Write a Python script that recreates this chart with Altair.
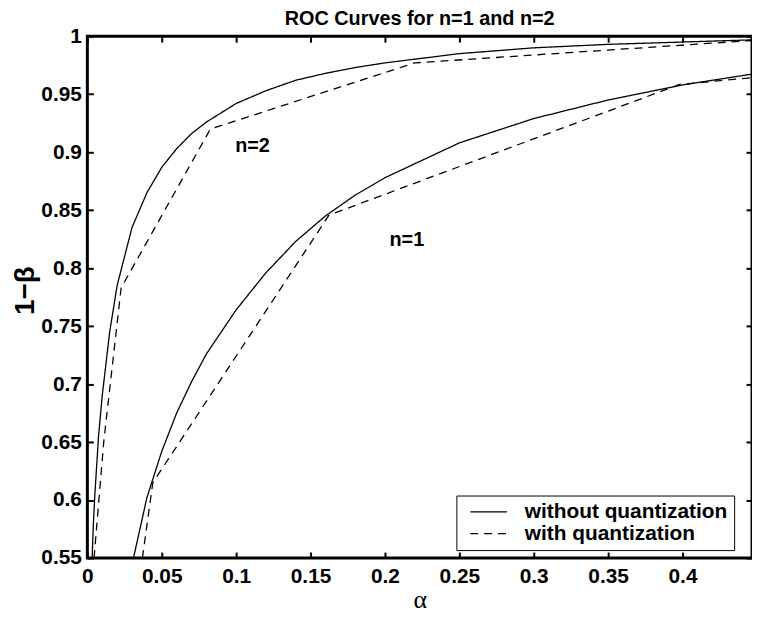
import altair as alt
import pandas as pd

# ---- data ----
n2_solid_alpha = [0.0032, 0.004, 0.005, 0.0075, 0.01, 0.015, 0.02, 0.03, 0.04, 0.05, 0.06, 0.07,
                  0.08, 0.1, 0.12, 0.14, 0.16, 0.18, 0.2, 0.25, 0.3, 0.35, 0.4, 0.45]
n2_solid_pd = [0.55, 0.578, 0.604, 0.655, 0.690, 0.745, 0.785, 0.835, 0.865, 0.887, 0.903, 0.916,
               0.926, 0.942, 0.953, 0.962, 0.968, 0.973, 0.977, 0.985, 0.990, 0.993, 0.995, 0.997]

n1_solid_alpha = [0.031, 0.04, 0.05, 0.06, 0.07, 0.08, 0.1, 0.12, 0.14, 0.16, 0.18, 0.2,
                  0.25, 0.3, 0.35, 0.4, 0.45]
n1_solid_pd = [0.55, 0.602, 0.642, 0.675, 0.702, 0.726, 0.764, 0.796, 0.823, 0.845, 0.863, 0.878,
               0.908, 0.929, 0.945, 0.958, 0.968]

n2_quant_alpha = [0.0045, 0.011, 0.0227, 0.0827, 0.22, 0.45]
n2_quant_pd = [0.55, 0.65, 0.783, 0.92, 0.977, 0.9966]

n1_quant_alpha = [0.037, 0.044, 0.1624, 0.398, 0.45]
n1_quant_pd = [0.55, 0.615, 0.8457, 0.9584, 0.9647]

label_text = ["n=2", "n=1"]
label_alpha = [0.111, 0.2147]
label_pd = [0.905, 0.8238]

x_ticks = [0, 0.05, 0.1, 0.15, 0.2, 0.25, 0.3, 0.35, 0.4]
y_ticks = [0.55, 0.6, 0.65, 0.7, 0.75, 0.8, 0.85, 0.9, 0.95, 1.0]

types = ["without quantization", "with quantization"]

# ---- build table ----
rows = []
for a, p in zip(n2_solid_alpha, n2_solid_pd):
    rows.append({"alpha": a, "pd": p, "curve": "n2_solid", "type": types[0]})
for a, p in zip(n1_solid_alpha, n1_solid_pd):
    rows.append({"alpha": a, "pd": p, "curve": "n1_solid", "type": types[0]})
for a, p in zip(n2_quant_alpha, n2_quant_pd):
    rows.append({"alpha": a, "pd": p, "curve": "n2_quant", "type": types[1]})
for a, p in zip(n1_quant_alpha, n1_quant_pd):
    rows.append({"alpha": a, "pd": p, "curve": "n1_quant", "type": types[1]})
df = pd.DataFrame(rows)
labels_df = pd.DataFrame({"alpha": label_alpha, "pd": label_pd, "text": label_text})

FONT = "Liberation Sans"
xscale = alt.Scale(domain=[0, 0.4467], nice=False, zero=False)
yscale = alt.Scale(domain=[0.55, 1.0], nice=False, zero=False)


def tick_axis(orient, values):
    return alt.Axis(orient=orient, values=values, labels=False, domain=False, grid=False,
                    ticks=True, tickSize=6, tickWidth=2, tickColor="black", offset=-6, title=None)


lines = alt.Chart(df).mark_line(color="black", strokeWidth=1.3, clip=True).encode(
    x=alt.X("alpha:Q", scale=xscale,
            axis=alt.Axis(orient="bottom", values=x_ticks, format="~g", ticks=False, domain=False,
                          grid=False, labelFont=FONT, labelFontWeight="bold", labelFontSize=21,
                          labelColor="black", labelPadding=8, labelFlush=False, labelOverlap=False,
                          title="α", titleFont="Liberation Serif", titleFontWeight="normal",
                          titleFontSize=26, titleColor="black", titlePadding=0)),
    y=alt.Y("pd:Q", scale=yscale,
            axis=alt.Axis(orient="left", values=y_ticks, format=".2~f", ticks=False, domain=False,
                          grid=False, labelFont=FONT, labelFontWeight="bold", labelFontSize=21,
                          labelColor="black", labelPadding=6, labelFlush=False, labelOverlap=False,
                          title="1−β", titleFont=FONT, titleFontWeight="bold", titleFontSize=28,
                          titleColor="black", titlePadding=1, titleY=256)),
    strokeDash=alt.StrokeDash(
        "type:N",
        scale=alt.Scale(domain=types, range=[[1, 0], [8, 6]]),
        legend=alt.Legend(title=None, orient="none", legendX=372, legendY=463,
                          symbolType="M-0.26,0H3.63", symbolSize=361, symbolStrokeColor="black",
                          symbolStrokeWidth=1.3, labelFont=FONT, labelFontWeight="bold",
                          labelFontSize=21, labelColor="black", strokeColor="black",
                          fillColor="white", padding=6, rowPadding=0, labelOffset=42,
                          labelLimit=400),
    ),
    detail="curve:N",
)

texts = alt.Chart(labels_df).mark_text(font=FONT, fontWeight="bold", fontSize=20, color="black").encode(
    x=alt.X("alpha:Q", scale=xscale, axis=tick_axis("bottom", x_ticks)),
    y=alt.Y("pd:Q", scale=yscale, axis=tick_axis("left", y_ticks)),
    text="text:N",
)

frame = alt.Chart(labels_df).mark_point(opacity=0).encode(
    x=alt.X("alpha:Q", scale=xscale, axis=tick_axis("top", x_ticks)),
    y=alt.Y("pd:Q", scale=yscale, axis=tick_axis("right", y_ticks)),
)

chart = alt.layer(lines, texts, frame).resolve_axis(
    x="independent", y="independent"
).properties(
    width=670,
    height=526,
    autosize=alt.AutoSizeParams(type="none"),
    padding={"left": 80, "top": 26, "right": 0, "bottom": 58},
    title=alt.TitleParams("ROC Curves for n=1 and n=2", font=FONT, fontSize=20, fontWeight="bold",
                          color="black", anchor="middle", baseline="alphabetic", offset=0, dy=20),
).configure_view(stroke="black", strokeWidth=3)

chart.save("out.html", embed_options={"renderer": "svg", "actions": False})
